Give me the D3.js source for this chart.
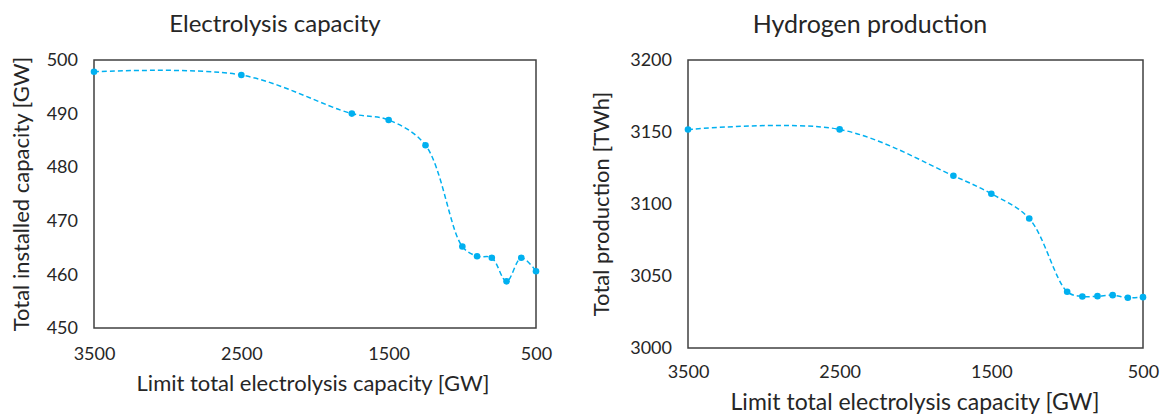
<!DOCTYPE html>
<html>
<head>
<meta charset="utf-8">
<script src="https://cdn.jsdelivr.net/npm/d3@7"></script>
<style>
  html, body { margin: 0; padding: 0; background: #fff; }
  svg text { font-family: Lato, "Open Sans", sans-serif; fill: #262626; }
</style>
</head>
<body>
<svg id="chart" width="1161" height="414"></svg>
<script>
// ---- data ----
const capLimits = [3500, 2500, 1750, 1500, 1250, 1000, 900, 800, 700, 600, 500];
const electrolysisCapacity = [497.8, 497.2, 490.0, 488.8, 484.1, 465.2, 463.4, 463.1, 458.7, 463.1, 460.6];
const hydrogenProduction = [3151.7, 3151.8, 3119.6, 3107.1, 3089.9, 3039.1, 3035.8, 3036.0, 3036.7, 3034.9, 3035.3];
const xTicks = [3500, 2500, 1500, 500];
const yTicksCapacity = [450, 460, 470, 480, 490, 500];
const yTicksProduction = [3000, 3050, 3100, 3150, 3200];

const titles = ["Electrolysis capacity", "Hydrogen production"];
const yTitles = ["Total installed capacity [GW]", "Total production [TWh]"];
const xTitle = "Limit total electrolysis capacity [GW]";

const svg = d3.select("#chart");
const color = "#00B0F0";

const panels = [
  { title: titles[0], yTitle: yTitles[0], values: electrolysisCapacity, yTicks: yTicksCapacity,
    x0: 94, x1: 536, y0: 60, y1: 328, titleX: 275, titleY: 32, titleSize: 24, yTitleX: 29,
    xLabelOff: 33, xTitleX: 313, xTitleY: 391, xTitleSize: 22 },
  { title: titles[1], yTitle: yTitles[1], values: hydrogenProduction, yTicks: yTicksProduction,
    x0: 688, x1: 1143, y0: 60, y1: 348, titleX: 870, titleY: 33, titleSize: 25, yTitleX: 609,
    xLabelOff: 31, xTitleX: 915, xTitleY: 410, xTitleSize: 23 }
];

panels.forEach(p => {
  const x = d3.scaleLinear().domain([3500, 500]).range([p.x0, p.x1]);
  const y = d3.scaleLinear().domain([p.yTicks[0], p.yTicks[p.yTicks.length - 1]]).range([p.y1, p.y0]);
  const g = svg.append("g");

  // frame
  g.append("rect")
    .attr("x", p.x0).attr("y", p.y0)
    .attr("width", p.x1 - p.x0).attr("height", p.y1 - p.y0)
    .attr("fill", "none").attr("stroke", "#404040").attr("stroke-width", 1.5);

  // y axis
  const ya = g.append("g").attr("transform", `translate(${p.x0},0)`)
    .call(d3.axisLeft(y).tickValues(p.yTicks).tickSize(0).tickPadding(16).tickFormat(d3.format("d")));
  ya.select(".domain").remove();
  ya.selectAll("text").attr("font-size", 18).attr("font-family", "Lato").attr("fill", "#262626");

  // x axis
  const xa = g.append("g").attr("transform", `translate(0,${p.y1})`)
    .call(d3.axisBottom(x).tickValues(xTicks).tickSize(0).tickPadding(p.xLabelOff - 14).tickFormat(d3.format("d")));
  xa.select(".domain").remove();
  xa.selectAll("text").attr("font-size", 18).attr("font-family", "Lato").attr("fill", "#262626");

  // line
  const pts = capLimits.map((c, i) => [c, p.values[i]]);
  g.append("path")
    .datum(pts)
    .attr("fill", "none")
    .attr("stroke", color)
    .attr("stroke-width", 1.5)
    .attr("stroke-dasharray", "5,3")
    .attr("d", d3.line().x(d => x(d[0])).y(d => y(d[1])).curve(d3.curveCatmullRom.alpha(0.5)));

  g.selectAll("circle.pt").data(pts).enter().append("circle")
    .attr("class", "pt")
    .attr("cx", d => x(d[0])).attr("cy", d => y(d[1]))
    .attr("r", 3.3).attr("fill", color);

  // titles
  g.append("text").attr("x", p.titleX).attr("y", p.titleY)
    .attr("text-anchor", "middle").attr("font-size", p.titleSize).text(p.title);
  g.append("text").attr("x", p.xTitleX).attr("y", p.xTitleY)
    .attr("text-anchor", "middle").attr("font-size", p.xTitleSize).text(xTitle);
  g.append("text")
    .attr("transform", `translate(${p.yTitleX},${(p.y0 + p.y1) / 2}) rotate(-90)`)
    .attr("text-anchor", "middle").attr("font-size", 22).text(p.yTitle);
});
</script>
</body>
</html>
